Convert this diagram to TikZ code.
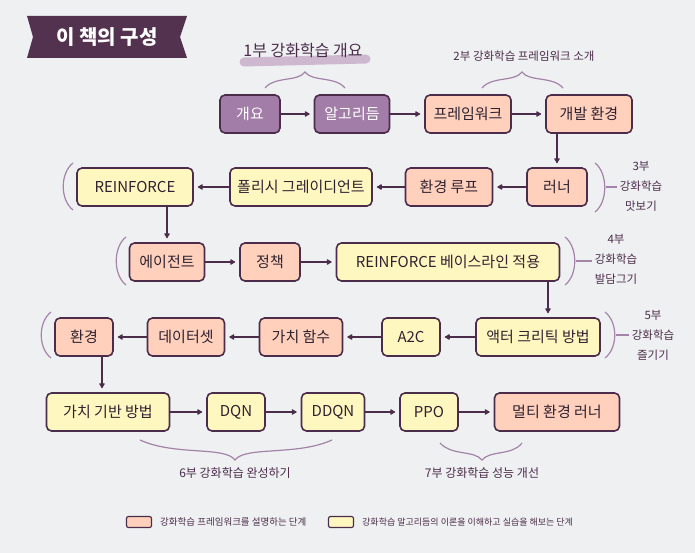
\documentclass[tikz,border=0pt]{standalone}
\usepackage{fontspec}
\setmainfont{Noto Sans CJK KR}
\usetikzlibrary{arrows.meta}
\definecolor{paper}{RGB}{239,240,242}
\definecolor{ink}{RGB}{75,44,75}
\definecolor{txt}{RGB}{46,34,48}
\definecolor{peach}{RGB}{255,208,188}
\definecolor{butter}{RGB}{255,247,192}
\definecolor{mauve}{RGB}{162,125,168}
\definecolor{ribbon}{RGB}{82,50,79}
\definecolor{brace}{RGB}{163,131,168}
\definecolor{marker}{RGB}{205,184,208}
\newcommand{\lparen}[3]{\draw[bracket] (#1,#2) .. controls (#1-13,#2+10) and (#1-13,#3-10) .. (#1,#3);}
\newcommand{\rparen}[3]{\draw[bracket] (#1,#2) .. controls (#1+13,#2+10) and (#1+13,#3-10) .. (#1,#3);}

\begin{document}
\begin{tikzpicture}[x=1pt,y=-1pt,>={Latex[round,length=6pt,width=7pt]},
  stage/.style={draw=ink,line width=1.6pt,rounded corners=5pt,minimum height=38pt,text=txt,font=\fontsize{15}{17}\selectfont},
  frame/.style={stage,fill=peach},
  algo/.style={stage,fill=butter},
  intro/.style={stage,fill=mauve,text=white},
  flow/.style={->,draw=ink,line width=1.5pt,shorten >=4pt},
  bracket/.style={draw=brace,line width=1.2pt},
  part/.style={text=ink,font=\fontsize{11.5}{20}\selectfont,align=center},
  every node/.style={inner sep=3pt}]
\useasboundingbox (0,0) rectangle (695,553);
\fill[paper] (0,0) rectangle (695,553);
% title ribbon
\fill[ribbon] (27,16)--(187,16)--(180,37)--(187,58)--(27,58)--(33,37)--cycle;
\node[text=white,font=\fontsize{20}{22}\selectfont\bfseries] (title) at (107,37) {이 책의 구성};

% part 1
\draw[marker,line width=9pt,line cap=round] (244,62)--(366,59);
\node[text=ink,font=\fontsize{16}{18}\selectfont] (part1) at (303,50) {1부 강화학습 개요};
\draw[bracket] (265,88) .. controls (275,76) and (298,82) .. (305,72) .. controls (312,82) and (335,76) .. (345,88);
\node[intro,minimum width=60] (intro) at (250,114) {개요};
\node[intro,minimum width=75] (algos) at (352,114) {알고리듬};

% part 2
\node[part] (part2) at (524,56) {2부 강화학습 프레임워크 소개};
\draw[bracket] (482,88) .. controls (492,76) and (515,82) .. (522,72) .. controls (529,82) and (553,76) .. (563,88);
\node[frame,minimum width=86] (fwk) at (468,114) {프레임워크};
\node[frame,minimum width=86] (devenv) at (589,114) {개발 환경};

% part 3
\node[frame,minimum width=60] (runner) at (557,187) {러너};
\node[frame,minimum width=87] (envloop) at (449,187) {환경 루프};
\node[algo,minimum width=142] (pgrad) at (301,187) {폴리시 그레이디언트};
\node[algo,minimum width=116] (reinforce) at (135,187) {REINFORCE};
\lparen{73}{163}{210}
\rparen{595}{163}{212}
\coordinate (tick3) at (606,187);
\node[part] (part3) at (641,186) {3부\\강화학습\\맛보기};

% part 4
\node[frame,minimum width=75] (agent) at (167,262) {에이전트};
\node[frame,minimum width=60] (policy) at (270,262) {정책};
\node[algo,minimum width=223] (baseline) at (448,262) {REINFORCE 베이스라인 적용};
\lparen{126}{237}{285}
\rparen{565}{237}{285}
\coordinate (tick4) at (576,261);
\node[part] (part4) at (616,259) {4부\\강화학습\\발담그기};

% part 5
\node[algo,minimum width=124] (actorcritic) at (538,337) {액터 크리틱 방법};
\node[algo,minimum width=58] (atwoc) at (411,337) {A2C};
\node[frame,minimum width=83] (valuefn) at (301,337) {가치 함수};
\node[frame,minimum width=77] (dataset) at (186,337) {데이터셋};
\node[frame,minimum width=58] (envb) at (84,337) {환경};
\lparen{51}{312}{358}
\rparen{605}{312}{358}
\coordinate (tick5) at (616,335);
\node[part] (part5) at (653,335) {5부\\강화학습\\즐기기};

% parts 6 and 7
\node[algo,minimum width=123] (valuebased) at (108,412) {가치 기반 방법};
\node[algo,minimum width=58] (dqn) at (236,412) {DQN};
\node[algo,minimum width=63] (ddqn) at (333,412) {DDQN};
\node[algo,minimum width=58] (ppo) at (429,412) {PPO};
\node[frame,minimum width=125] (multienv) at (557,412) {멀티 환경 러너};
\draw[bracket] (140,440) .. controls (175,456) and (225,446) .. (235,460) .. controls (245,446) and (297,456) .. (332,440);
\draw[bracket] (440,443) .. controls (452,456) and (474,450) .. (482,460) .. controls (490,450) and (512,456) .. (522,443);
\node[part,font=\fontsize{12}{14}\selectfont] (part6) at (235,473) {6부 강화학습 완성하기};
\node[part,font=\fontsize{12}{14}\selectfont] (part7) at (482,473) {7부 강화학습 성능 개선};

% connectors
\draw[flow] (intro)--(algos);
\draw[flow] (algos)--(fwk);
\draw[flow] (fwk)--(devenv);
\draw[flow] (devenv.south -| runner)--(runner.north);
\draw[flow] (runner)--(envloop);
\draw[flow] (envloop)--(pgrad);
\draw[flow] (pgrad)--(reinforce);
\draw[flow] (reinforce.south -| agent)--(agent.north);
\draw[flow] (agent)--(policy);
\draw[flow] (policy)--(baseline);
\draw[flow] ([xshift=10pt]baseline.south -| actorcritic)--([xshift=10pt]actorcritic.north);
\draw[flow] (actorcritic)--(atwoc);
\draw[flow] (atwoc)--(valuefn);
\draw[flow] (valuefn)--(dataset);
\draw[flow] (dataset)--(envb);
\draw[flow] ([xshift=18pt]envb.south)--([xshift=18pt]envb.south |- valuebased.north);
\draw[flow] (valuebased)--(dqn);
\draw[flow] (dqn)--(ddqn);
\draw[flow] (ddqn)--(ppo);
\draw[flow] (ppo)--(multienv);
\draw[bracket] (tick3)--(part3.west |- tick3);
\draw[bracket] (tick4)--(part4.west |- tick4);
\draw[bracket] (tick5)--(part5.west |- tick5);

% legend
\node[draw=ink,fill=peach,line width=1.2pt,rounded corners=2pt,minimum width=25pt,minimum height=11pt,inner sep=0pt] (keyframe) at (139,522) {};
\node[anchor=west,text=ink,font=\fontsize{9.5}{11}\selectfont] (keyframetxt) at (157,522) {강화학습 프레임워크를 설명하는 단계};
\node[draw=ink,fill=butter,line width=1.2pt,rounded corners=2pt,minimum width=25pt,minimum height=11pt,inner sep=0pt] (keyalgo) at (341,522) {};
\node[anchor=west,text=ink,font=\fontsize{9}{11}\selectfont] (keyalgotxt) at (359,522) {강화학습 알고리듬의 이론을 이해하고 실습을 해보는 단계};
\end{tikzpicture}
\end{document}
